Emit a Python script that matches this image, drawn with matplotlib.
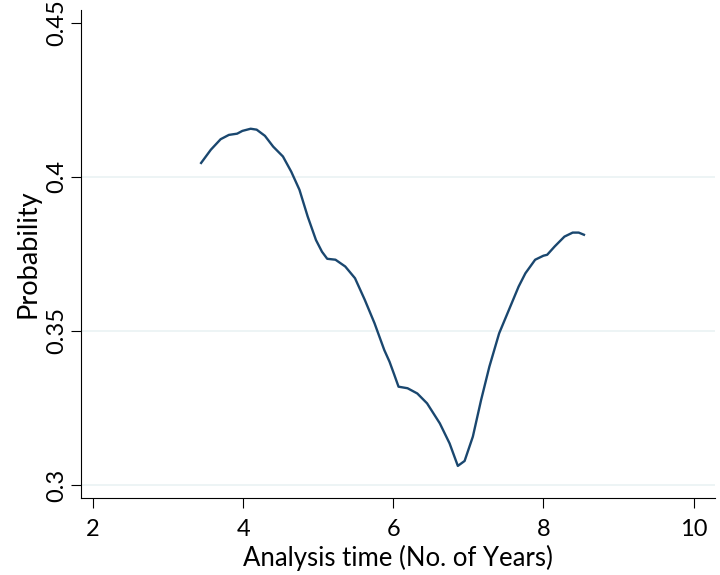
import matplotlib.pyplot as plt

plt.rcParams['font.family'] = ['Lato', 'DejaVu Sans']

# values
years = [3.44, 3.57, 3.70, 3.81, 3.92, 3.99, 4.10, 4.18, 4.29, 4.40, 4.53,
         4.64, 4.75, 4.86, 4.97, 5.05, 5.12, 5.23, 5.36, 5.49, 5.62, 5.75,
         5.88, 5.95, 6.01, 6.07, 6.19, 6.32, 6.45, 6.62, 6.75, 6.86, 6.95,
         7.06, 7.17, 7.28, 7.41, 7.54, 7.67, 7.76, 7.89, 8.00, 8.05, 8.15,
         8.28, 8.39, 8.47, 8.54]
prob = [0.4045, 0.4088, 0.4122, 0.4136, 0.4140, 0.4149, 0.4156, 0.4153,
        0.4133, 0.4098, 0.4066, 0.4017, 0.3958, 0.3871, 0.3795, 0.3757,
        0.3734, 0.3731, 0.3709, 0.3671, 0.3601, 0.3525, 0.3438, 0.3400,
        0.3360, 0.3319, 0.3314, 0.3297, 0.3265, 0.3200, 0.3135, 0.3062,
        0.3078, 0.3157, 0.3276, 0.3384, 0.3492, 0.3568, 0.3644, 0.3687,
        0.3731, 0.3744, 0.3747, 0.3774, 0.3806, 0.3819, 0.3819, 0.3812]

xticks = [2, 4, 6, 8, 10]
yticks = [0.3, 0.35, 0.4, 0.45]
ytick_labels = ['0.3', '0.35', '0.4', '0.45']

fig = plt.figure(figsize=(7.2, 5.75), dpi=100)
ax = fig.add_axes([0.1125, 0.134, 0.881, 0.849])

for y in yticks[:-1]:
    ax.axhline(y, color='#eaf2f3', lw=1.2, zorder=0)

ax.plot(years, prob, color='#1a476f', lw=1.7, solid_joinstyle='round')

ax.set_xlim(1.84, 10.29)
ax.set_ylim(0.2958, 0.4542)
ax.set_xticks(xticks)
ax.set_yticks(yticks)
ax.set_yticklabels(ytick_labels, rotation=90, va='center')

for s in ['top', 'right']:
    ax.spines[s].set_visible(False)
ax.tick_params(direction='out', length=7, width=0.8, labelsize=17)
ax.tick_params(axis='x', pad=8)
ax.tick_params(axis='y', pad=3)

ax.set_xlabel('Analysis time (No. of Years)', fontsize=18.5, labelpad=4)
ax.set_ylabel('Probability', fontsize=19.5, labelpad=4)

fig.savefig('out.png')
